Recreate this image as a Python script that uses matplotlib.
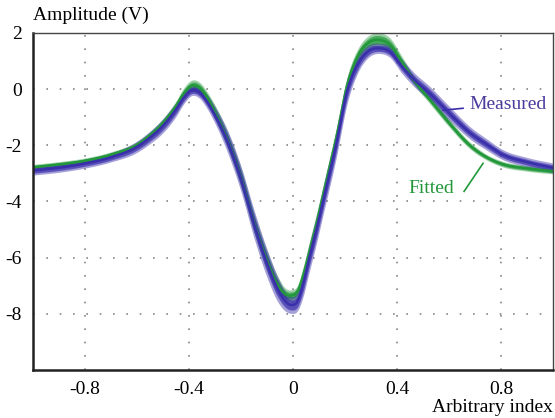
import numpy as np
import matplotlib.pyplot as plt

plt.rcParams['font.family'] = ['Liberation Serif', 'DejaVu Serif']

# sample positions (arbitrary index)
x_pts = [-1.0, -0.9, -0.8, -0.7, -0.6, -0.55, -0.5, -0.45, -0.42, -0.39,
         -0.36, -0.33, -0.3, -0.25, -0.2, -0.15, -0.1, -0.06, -0.03, -0.01,
         0.02, 0.04, 0.06, 0.09, 0.115, 0.165, 0.21, 0.25, 0.29, 0.335,
         0.37, 0.42, 0.47, 0.52, 0.6, 0.68, 0.75, 0.8, 0.9, 1.0]

# measured traces: centre and half-width of the bundle (V)
measured_mid = [-2.9, -2.8, -2.65, -2.43, -2.05, -1.72, -1.3, -0.72, -0.3, -0.05,
                -0.12, -0.45, -0.92, -1.9, -3.2, -4.8, -6.2, -7.1, -7.55, -7.68,
                -7.5, -6.9, -6.1, -5.0, -4.0, -2.0, 0.0, 0.9, 1.35, 1.45,
                1.35, 0.8, 0.3, -0.1, -0.85, -1.55, -2.0, -2.3, -2.6, -2.8]
measured_spread = [0.16, 0.16, 0.16, 0.16, 0.2, 0.22, 0.25, 0.25, 0.22, 0.18,
                   0.2, 0.25, 0.3, 0.4, 0.45, 0.5, 0.5, 0.45, 0.35, 0.3,
                   0.35, 0.45, 0.5, 0.5, 0.5, 0.5, 0.45, 0.3, 0.22, 0.18,
                   0.2, 0.25, 0.25, 0.25, 0.25, 0.22, 0.2, 0.18, 0.17, 0.17]

# fitted traces
fitted_mid = [-2.78, -2.68, -2.55, -2.33, -1.98, -1.64, -1.2, -0.6, -0.15, 0.12,
              0.05, -0.3, -0.82, -1.85, -3.15, -4.75, -6.1, -6.95, -7.3, -7.35,
              -7.15, -6.6, -5.9, -4.8, -3.8, -1.8, 0.2, 1.2, 1.65, 1.75,
              1.6, 0.95, 0.25, -0.3, -1.2, -2.0, -2.45, -2.65, -2.82, -2.92]
fitted_spread = [0.1, 0.1, 0.1, 0.1, 0.12, 0.14, 0.16, 0.18, 0.2, 0.2,
                 0.2, 0.2, 0.25, 0.3, 0.35, 0.35, 0.35, 0.3, 0.22, 0.2,
                 0.22, 0.3, 0.35, 0.35, 0.35, 0.35, 0.3, 0.25, 0.25, 0.25,
                 0.25, 0.2, 0.15, 0.15, 0.14, 0.12, 0.1, 0.1, 0.1, 0.1]

BLUE = '#3a2fab'
GREEN = '#23983a'


def smooth(xs, ys, n=600):
    # cubic Hermite through the read points, only for drawing
    xs = np.asarray(xs, float); ys = np.asarray(ys, float)
    d = np.diff(ys) / np.diff(xs)
    m = np.empty_like(ys)
    m[0], m[-1] = d[0], d[-1]
    h = np.diff(xs)
    m[1:-1] = (d[:-1] * h[1:] + d[1:] * h[:-1]) / (h[:-1] + h[1:])
    xf = np.linspace(xs[0], xs[-1], n)
    k = np.clip(np.searchsorted(xs, xf) - 1, 0, len(xs) - 2)
    t = (xf - xs[k]) / h[k]
    h00 = 2*t**3 - 3*t**2 + 1; h10 = t**3 - 2*t**2 + t
    h01 = -2*t**3 + 3*t**2;    h11 = t**3 - t**2
    yf = h00*ys[k] + h10*h[k]*m[k] + h01*ys[k+1] + h11*h[k]*m[k+1]
    return xf, yf


def draw_bundle(ax, mid, spread, color):
    xf, yf = smooth(x_pts, mid)
    _, sf = smooth(x_pts, spread)
    ax.fill_between(xf, yf - sf, yf + sf, color=color, alpha=0.45, lw=0)
    ax.fill_between(xf, yf - 0.6*sf, yf + 0.6*sf, color=color, alpha=0.7, lw=0)
    ax.plot(xf, yf, color=color, lw=1.8)


fig = plt.figure(figsize=(5.55, 4.18), dpi=100)
ax = fig.add_axes([33/555, 48/418, 520/555, 337/418])

draw_bundle(ax, fitted_mid, fitted_spread, GREEN)
draw_bundle(ax, measured_mid, measured_spread, BLUE)

ax.set_xlim(-1, 1)
ax.set_ylim(-10, 2)
ax.set_xticks([-0.8, -0.4, 0, 0.4, 0.8])
ax.set_xticklabels(['-0.8', '-0.4', '0', '0.4', '0.8'])
ax.set_yticks([2, 0, -2, -4, -6, -8])
ax.set_yticklabels(['2', '0', '-2', '-4', '-6', '-8'])
ax.tick_params(length=0, labelsize=14, pad=8)
ax.grid(True, color='#888888', linestyle=(0, (1, 7)), lw=1.2)
ax.set_axisbelow(True)

for side in ('left', 'bottom'):
    ax.spines[side].set_linewidth(1.8)
    ax.spines[side].set_color('#222222')
for side in ('top', 'right'):
    ax.spines[side].set_linewidth(1.0)
    ax.spines[side].set_color('#444444')

# annotations
ax.plot([0.577, 0.654], [-0.75, -0.68], color=BLUE, lw=1.2)
ax.text(0.677, -0.55, 'Measured', color='#4a3c9c', fontsize=14,
        ha='left', va='center')
ax.plot([0.658, 0.731], [-3.64, -2.64], color=GREEN, lw=1.2)
ax.text(0.53, -3.55, 'Fitted', color=GREEN, fontsize=14,
        ha='center', va='center')

fig.text(33/555, 1 - 15/418, 'Amplitude (V)', fontsize=14,
         ha='left', va='center')
fig.text(553/555, 1 - 408/418, 'Arbitrary index', fontsize=14,
         ha='right', va='center')

fig.savefig('out.png', dpi=100)
